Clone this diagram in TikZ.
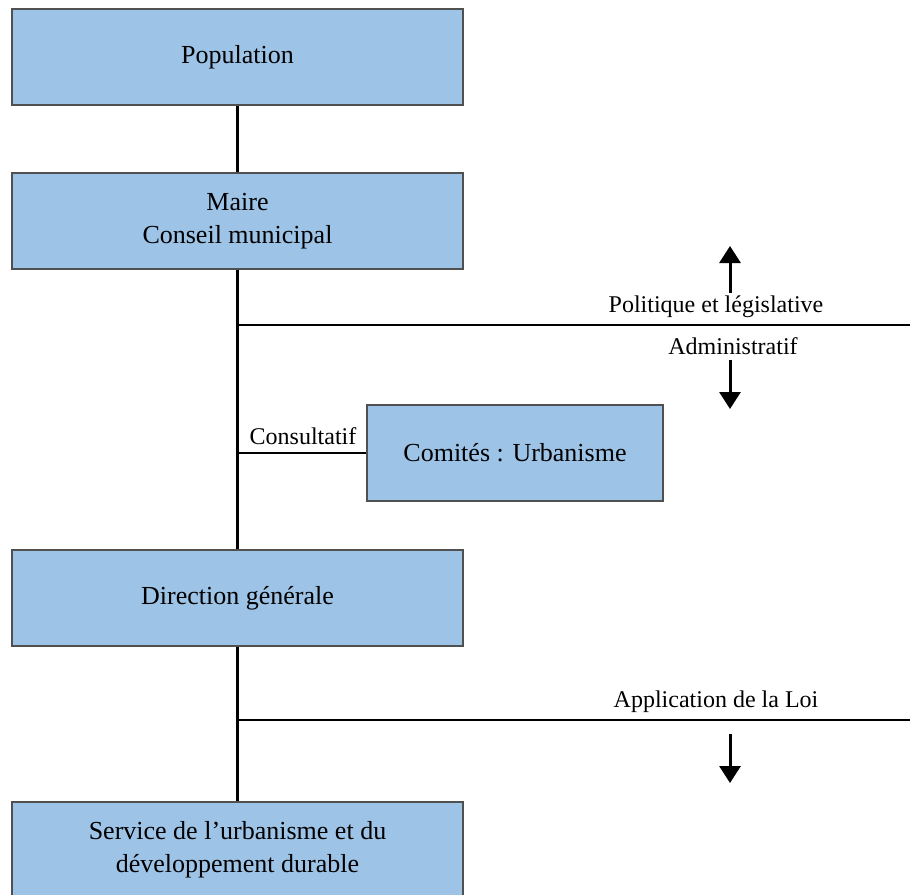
\documentclass[tikz,border=0pt]{standalone}
\usepackage{fontspec}
\setmainfont{Liberation Serif}
\usetikzlibrary{arrows.meta}
\definecolor{boxfill}{HTML}{9DC3E6}
\definecolor{boxline}{HTML}{505050}
\begin{document}
\begin{tikzpicture}[x=1pt,y=-1pt,
  orgbox/.style={draw=boxline,line width=1.4pt,fill=boxfill,minimum width=451pt,minimum height=96pt,inner sep=0pt,align=center,font=\fontsize{26}{33}\selectfont},
  link/.style={line width=2.4pt,black},
  lbl/.style={inner sep=0pt,font=\fontsize{24}{28}\selectfont},
  marrow/.style={line width=3pt,-{Triangle[width=21pt,length=17pt]}}]
\useasboundingbox (0,0) rectangle (910,894);
\node[orgbox] (pop) at (237.5,57) {Population};
\node[orgbox] (maire) at (237.5,221) {Maire\\Conseil municipal};
\node[orgbox,minimum width=296pt] (com) at (515,453) {Comités : Urbanisme};
\node[orgbox] (dir) at (237.5,598) {Direction générale};
\node[orgbox,line width=1.8pt] (serv) at (237.5,850) {Service de l’urbanisme et du\\développement durable};
\coordinate (j1) at (237.5,325);
\coordinate (e1) at (910,325);
\coordinate (j2) at (237.5,453);
\coordinate (j3) at (237.5,720);
\coordinate (e3) at (910,720);
\draw[link] (pop.south) -- (maire.north);
\draw[link] (maire.south) -- (dir.north);
\draw[link] (j1) -- (e1);
\draw[link] (j2) -- (com.west);
\draw[link] (dir.south) -- (serv.north);
\draw[link] (j3) -- (e3);
\node[lbl] (pol) at (716,307) {Politique et législative};
\node[lbl] (adm) at (733,346) {Administratif};
\node[lbl] (app) at (716,702) {Application de la Loi};
\node[lbl] (cons) at (303,436) {Consultatif};
\coordinate (a1s) at (730,293); \coordinate (a1e) at (730,246);
\coordinate (a2s) at (730,360); \coordinate (a2e) at (730,409);
\coordinate (a3s) at (730,734); \coordinate (a3e) at (730,783);
\draw[marrow] (a1s) -- (a1e);
\draw[marrow] (a2s) -- (a2e);
\draw[marrow] (a3s) -- (a3e);
\end{tikzpicture}
\end{document}
